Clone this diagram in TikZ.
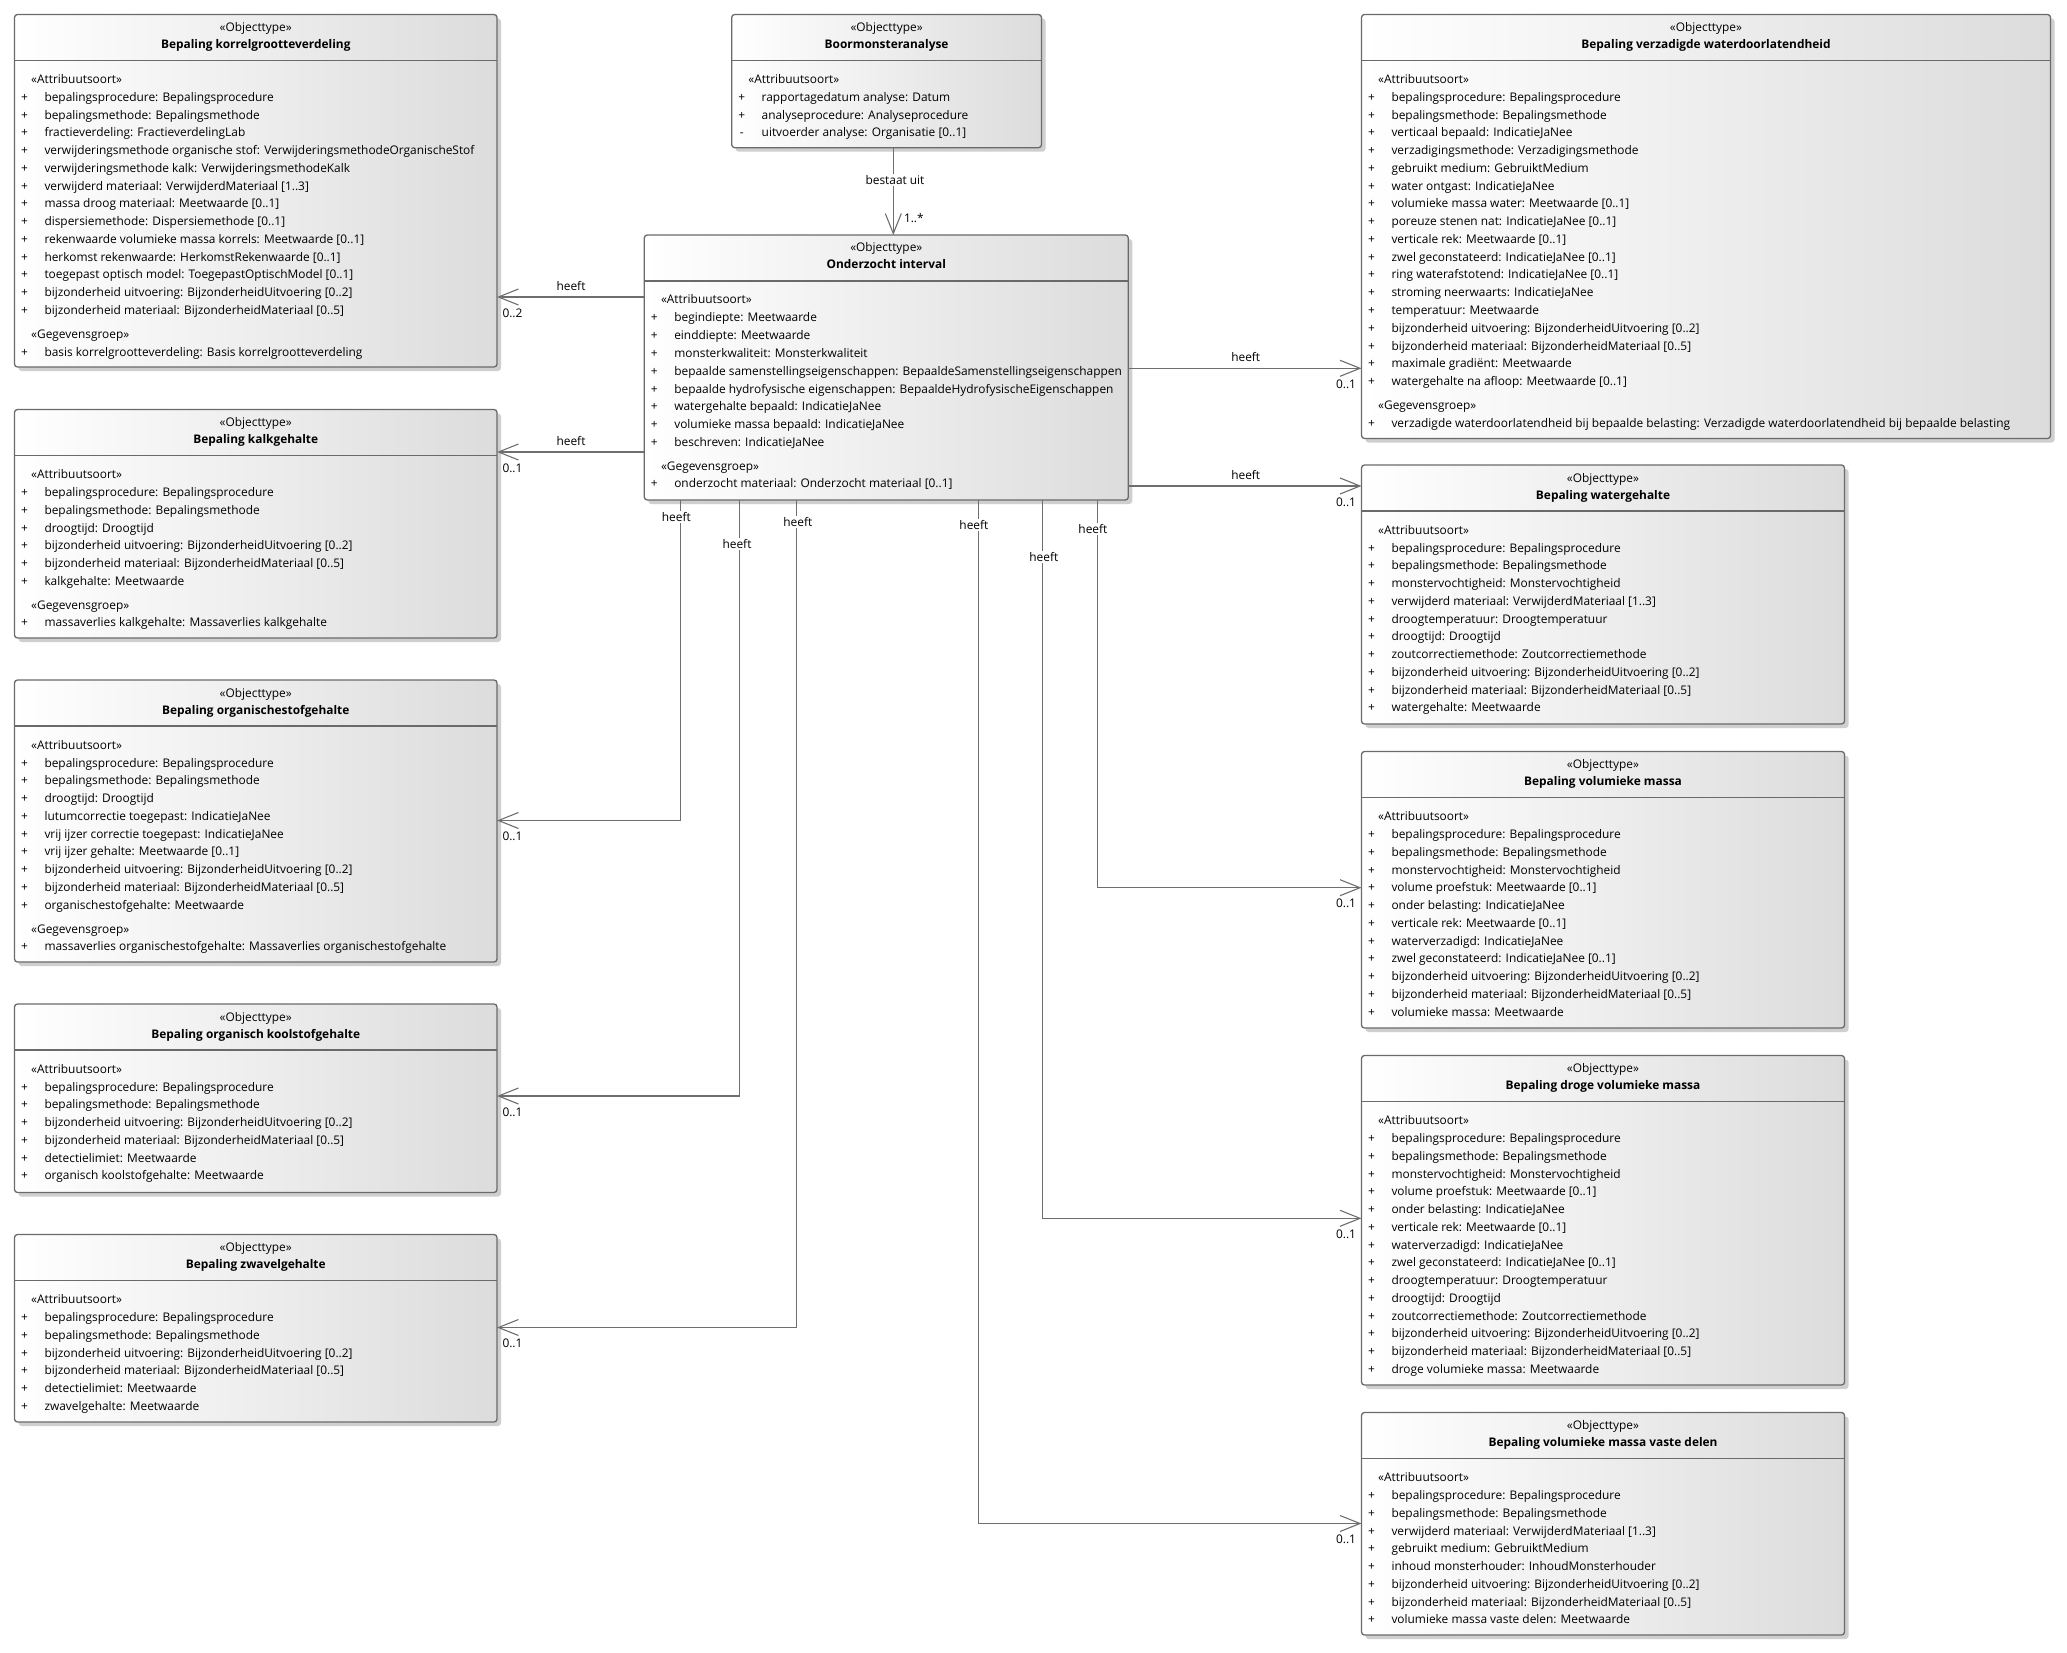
\documentclass[tikz,border=0pt]{standalone}
\usepackage{fontspec}
\setmainfont{Open Sans}
\usetikzlibrary{arrows.meta,shadows}
\definecolor{bordergray}{HTML}{6A6A6A}
\definecolor{linegray}{HTML}{6E6E6E}
\definecolor{shadowgray}{HTML}{CFCFCF}
\definecolor{fillgray}{HTML}{DCDCDC}
\newcommand\uf{\fontsize{11.9}{14}\selectfont}
\tikzset{
  objbox/.style={draw=bordergray, line width=1.3pt, rounded corners=3pt,
    left color=white, right color=fillgray, inner sep=0pt, outer sep=0pt,
    drop shadow={shadow xshift=4pt, shadow yshift=-4pt, fill=shadowgray, opacity=1}},
  sepline/.style={draw=bordergray, line width=1.1pt},
  txt/.style={font=\uf, inner sep=0pt, text=black},
  txtb/.style={font=\uf\bfseries, inner sep=0pt, text=black},
  lbl/.style={font=\uf, inner sep=0.8pt, text=black},
  lblw/.style={font=\uf, inner sep=1.2pt, text=black, fill=white},
  assoc/.style={draw=linegray, line width=1.1pt, -{Straight Barb[length=20pt,width=16pt]}},
  plain/.style={draw=linegray, line width=1.1pt}
}
% #1 name, #2 left, #3 top, #4 right, #5 bottom, #6 title, #7 attributes, #8 gegevensgroep
\newcommand\umlbox[8]{%
  \pgfmathsetmacro\bw{#4-#2}%
  \pgfmathsetmacro\bh{#5-#3}%
  \pgfmathsetmacro\bcx{(#2+#4)/2}%
  \pgfmathsetmacro\bcy{(#3+#5)/2}%
  \node[objbox, minimum width=\bw pt, minimum height=\bh pt] (#1) at (\bcx,\bcy) {};
  \pgfmathsetmacro\ysep{#3+46}%
  \draw[sepline] (#1.west |- 0,\ysep) -- (#1.east |- 0,\ysep);
  \pgfmathsetmacro\ya{#3+13+4}%
  \pgfmathsetmacro\yb{#3+30+4}%
  \pgfmathsetmacro\yc{#3+65+4}%
  \pgfmathsetmacro\xp{#2+10}%
  \pgfmathsetmacro\xs{#2+16.5}%
  \pgfmathsetmacro\xt{#2+29.8}%
  \node[txt, anchor=base] (#1-st) at (\bcx,\ya) {«Objecttype»};
  \node[txtb, anchor=base] (#1-ti) at (\bcx,\yb) {#6};
  \node[txt, anchor=base west] (#1-as) at (\xs,\yc) {«Attribuutsoort»};
  \foreach \itm [count=\k from 0] in {#7} {
    \pgfmathsetmacro\yy{#3+87+\k*17.75}
    \node[txt, anchor=base] (#1-p\k) at (\xp,\yy) {+};
    \node[txt, anchor=base west] (#1-a\k) at (\xt,\yy) {\itm};
    \xdef\lastyy{\yy}
  }%
  \def\tmp{#8}%
  \ifx\tmp\empty\else
    \pgfmathsetmacro\yg{\lastyy+24}%
    \pgfmathsetmacro\yh{\yg+17.6}%
    \node[txt, anchor=base west] (#1-gs) at (\xs,\yg) {«Gegevensgroep»};
    \node[txt, anchor=base] (#1-gp) at (\xp,\yh) {+};
    \node[txt, anchor=base west] (#1-g) at (\xt,\yh) {#8};
  \fi
}
\begin{document}
\begin{tikzpicture}[x=1pt,y=-1pt]
\fill[white] (0,0) rectangle (2067,1653);
\useasboundingbox (0,0) rectangle (2067,1653);

% ---------- boxes ----------
\umlbox{B1}{14.5}{14.5}{497}{367}{Bepaling korrelgrootteverdeling}{%
bepalingsprocedure: Bepalingsprocedure,
bepalingsmethode: Bepalingsmethode,
fractieverdeling: FractieverdelingLab,
verwijderingsmethode organische stof: VerwijderingsmethodeOrganischeStof,
verwijderingsmethode kalk: VerwijderingsmethodeKalk,
verwijderd materiaal: VerwijderdMateriaal [1..3],
massa droog materiaal: Meetwaarde [0..1],
dispersiemethode: Dispersiemethode [0..1],
rekenwaarde volumieke massa korrels: Meetwaarde [0..1],
herkomst rekenwaarde: HerkomstRekenwaarde [0..1],
toegepast optisch model: ToegepastOptischModel [0..1],
bijzonderheid uitvoering: BijzonderheidUitvoering [0..2],
bijzonderheid materiaal: BijzonderheidMateriaal [0..5]}{basis korrelgrootteverdeling: Basis korrelgrootteverdeling}

\umlbox{B2}{731.7}{14.5}{1041.5}{147.7}{Boormonsteranalyse}{%
rapportagedatum analyse: Datum,
analyseprocedure: Analyseprocedure}{}
\node[txt, anchor=base] (B2-p2) at (741.7,136.5) {-};
\node[txt, anchor=base west] (B2-a2) at (761.5,136.5) {uitvoerder analyse: Organisatie [0..1]};

\umlbox{B3}{644.3}{235}{1128.3}{500}{Onderzocht interval}{%
begindiepte: Meetwaarde,
einddiepte: Meetwaarde,
monsterkwaliteit: Monsterkwaliteit,
bepaalde samenstellingseigenschappen: BepaaldeSamenstellingseigenschappen,
bepaalde hydrofysische eigenschappen: BepaaldeHydrofysischeEigenschappen,
watergehalte bepaald: IndicatieJaNee,
volumieke massa bepaald: IndicatieJaNee,
beschreven: IndicatieJaNee}{onderzocht materiaal: Onderzocht materiaal [0..1]}

\umlbox{B4}{1361.5}{14.5}{2050.5}{438.5}{Bepaling verzadigde waterdoorlatendheid}{%
bepalingsprocedure: Bepalingsprocedure,
bepalingsmethode: Bepalingsmethode,
verticaal bepaald: IndicatieJaNee,
verzadigingsmethode: Verzadigingsmethode,
gebruikt medium: GebruiktMedium,
water ontgast: IndicatieJaNee,
volumieke massa water: Meetwaarde [0..1],
poreuze stenen nat: IndicatieJaNee [0..1],
verticale rek: Meetwaarde [0..1],
zwel geconstateerd: IndicatieJaNee [0..1],
ring waterafstotend: IndicatieJaNee [0..1],
stroming neerwaarts: IndicatieJaNee,
temperatuur: Meetwaarde,
bijzonderheid uitvoering: BijzonderheidUitvoering [0..2],
bijzonderheid materiaal: BijzonderheidMateriaal [0..5],
maximale gradiënt: Meetwaarde,
watergehalte na afloop: Meetwaarde [0..1]}{verzadigde waterdoorlatendheid bij bepaalde belasting: Verzadigde waterdoorlatendheid bij bepaalde belasting}

\umlbox{B5}{1361.5}{465}{1844.5}{724}{Bepaling watergehalte}{%
bepalingsprocedure: Bepalingsprocedure,
bepalingsmethode: Bepalingsmethode,
monstervochtigheid: Monstervochtigheid,
verwijderd materiaal: VerwijderdMateriaal [1..3],
droogtemperatuur: Droogtemperatuur,
droogtijd: Droogtijd,
zoutcorrectiemethode: Zoutcorrectiemethode,
bijzonderheid uitvoering: BijzonderheidUitvoering [0..2],
bijzonderheid materiaal: BijzonderheidMateriaal [0..5],
watergehalte: Meetwaarde}{}

\umlbox{B6}{1361.5}{751.5}{1844.5}{1028}{Bepaling volumieke massa}{%
bepalingsprocedure: Bepalingsprocedure,
bepalingsmethode: Bepalingsmethode,
monstervochtigheid: Monstervochtigheid,
volume proefstuk: Meetwaarde [0..1],
onder belasting: IndicatieJaNee,
verticale rek: Meetwaarde [0..1],
waterverzadigd: IndicatieJaNee,
zwel geconstateerd: IndicatieJaNee [0..1],
bijzonderheid uitvoering: BijzonderheidUitvoering [0..2],
bijzonderheid materiaal: BijzonderheidMateriaal [0..5],
volumieke massa: Meetwaarde}{}

\umlbox{B7}{1361.5}{1055.5}{1844.5}{1385}{Bepaling droge volumieke massa}{%
bepalingsprocedure: Bepalingsprocedure,
bepalingsmethode: Bepalingsmethode,
monstervochtigheid: Monstervochtigheid,
volume proefstuk: Meetwaarde [0..1],
onder belasting: IndicatieJaNee,
verticale rek: Meetwaarde [0..1],
waterverzadigd: IndicatieJaNee,
zwel geconstateerd: IndicatieJaNee [0..1],
droogtemperatuur: Droogtemperatuur,
droogtijd: Droogtijd,
zoutcorrectiemethode: Zoutcorrectiemethode,
bijzonderheid uitvoering: BijzonderheidUitvoering [0..2],
bijzonderheid materiaal: BijzonderheidMateriaal [0..5],
droge volumieke massa: Meetwaarde}{}

\umlbox{B8}{1361.5}{1412.5}{1844.5}{1635}{Bepaling volumieke massa vaste delen}{%
bepalingsprocedure: Bepalingsprocedure,
bepalingsmethode: Bepalingsmethode,
verwijderd materiaal: VerwijderdMateriaal [1..3],
gebruikt medium: GebruiktMedium,
inhoud monsterhouder: InhoudMonsterhouder,
bijzonderheid uitvoering: BijzonderheidUitvoering [0..2],
bijzonderheid materiaal: BijzonderheidMateriaal [0..5],
volumieke massa vaste delen: Meetwaarde}{}

\umlbox{B9}{14.5}{409.5}{497}{638}{Bepaling kalkgehalte}{%
bepalingsprocedure: Bepalingsprocedure,
bepalingsmethode: Bepalingsmethode,
droogtijd: Droogtijd,
bijzonderheid uitvoering: BijzonderheidUitvoering [0..2],
bijzonderheid materiaal: BijzonderheidMateriaal [0..5],
kalkgehalte: Meetwaarde}{massaverlies kalkgehalte: Massaverlies kalkgehalte}

\umlbox{B10}{14.5}{680}{497}{962}{Bepaling organischestofgehalte}{%
bepalingsprocedure: Bepalingsprocedure,
bepalingsmethode: Bepalingsmethode,
droogtijd: Droogtijd,
lutumcorrectie toegepast: IndicatieJaNee,
vrij ijzer correctie toegepast: IndicatieJaNee,
vrij ijzer gehalte: Meetwaarde [0..1],
bijzonderheid uitvoering: BijzonderheidUitvoering [0..2],
bijzonderheid materiaal: BijzonderheidMateriaal [0..5],
organischestofgehalte: Meetwaarde}{massaverlies organischestofgehalte: Massaverlies organischestofgehalte}

\umlbox{B11}{14.5}{1004}{497}{1192.5}{Bepaling organisch koolstofgehalte}{%
bepalingsprocedure: Bepalingsprocedure,
bepalingsmethode: Bepalingsmethode,
bijzonderheid uitvoering: BijzonderheidUitvoering [0..2],
bijzonderheid materiaal: BijzonderheidMateriaal [0..5],
detectielimiet: Meetwaarde,
organisch koolstofgehalte: Meetwaarde}{}

\umlbox{B12}{14.5}{1234.5}{497}{1422}{Bepaling zwavelgehalte}{%
bepalingsprocedure: Bepalingsprocedure,
bepalingsmethode: Bepalingsmethode,
bijzonderheid uitvoering: BijzonderheidUitvoering [0..2],
bijzonderheid materiaal: BijzonderheidMateriaal [0..5],
detectielimiet: Meetwaarde,
zwavelgehalte: Meetwaarde}{}

% ---------- connectors ----------
\draw[assoc] (B2.south -| 893.3,0) -- (B3.north -| 893.3,0);
\draw[assoc] (B3.west |- 0,297) -- (B1.east |- 0,297);
\draw[assoc] (B3.west |- 0,452) -- (B9.east |- 0,452);
\draw[assoc] (B3.east |- 0,368.3) -- (B4.west |- 0,368.3);
\draw[assoc] (B3.east |- 0,486) -- (B5.west |- 0,486);
\draw[assoc] (B3.south -| 680.4,0) |- (B10.east |- 0,820.5);
\draw[assoc] (B3.south -| 739.4,0) |- (B11.east |- 0,1096);
\draw[assoc] (B3.south -| 796.4,0) |- (B12.east |- 0,1327.5);
\draw[assoc] (B3.south -| 978.6,0) |- (B8.west |- 0,1523.5);
\draw[assoc] (B3.south -| 1042.4,0) |- (B7.west |- 0,1218.3);
\draw[assoc] (B3.south -| 1097.3,0) |- (B6.west |- 0,887.7);

% ---------- labels ----------
\node[lblw] (L0) at (895,180) {bestaat uit};
\node[lbl, anchor=west] (M0) at (903,218) {1..*};

\node[lbl] (L1) at (571,286) {heeft};
\node[lbl, anchor=west] (M1) at (501.5,313) {0..2};
\node[lbl] (L2) at (571,441.5) {heeft};
\node[lbl, anchor=west] (M2) at (501.5,468) {0..1};
\node[lbl] (L3) at (1245.7,357) {heeft};
\node[lbl, anchor=east] (M3) at (1357,384) {0..1};
\node[lbl] (L4) at (1245.7,475) {heeft};
\node[lbl, anchor=east] (M4) at (1357,502) {0..1};

\node[lblw] (L5) at (676.3,517) {heeft};
\node[lbl, anchor=west] (M5) at (501.5,836.5) {0..1};
\node[lblw] (L6) at (737,544.3) {heeft};
\node[lbl, anchor=west] (M6) at (501.5,1112) {0..1};
\node[lblw] (L7) at (797.8,522.3) {heeft};
\node[lbl, anchor=west] (M7) at (501.5,1343.5) {0..1};
\node[lblw] (L8) at (973.9,525) {heeft};
\node[lbl, anchor=east] (M8) at (1357,1539.3) {0..1};
\node[lblw] (L9) at (1043.8,557.3) {heeft};
\node[lbl, anchor=east] (M9) at (1357,1234.3) {0..1};
\node[lblw] (L10) at (1092.9,529.3) {heeft};
\node[lbl, anchor=east] (M10) at (1357,903.5) {0..1};
\end{tikzpicture}
\end{document}
